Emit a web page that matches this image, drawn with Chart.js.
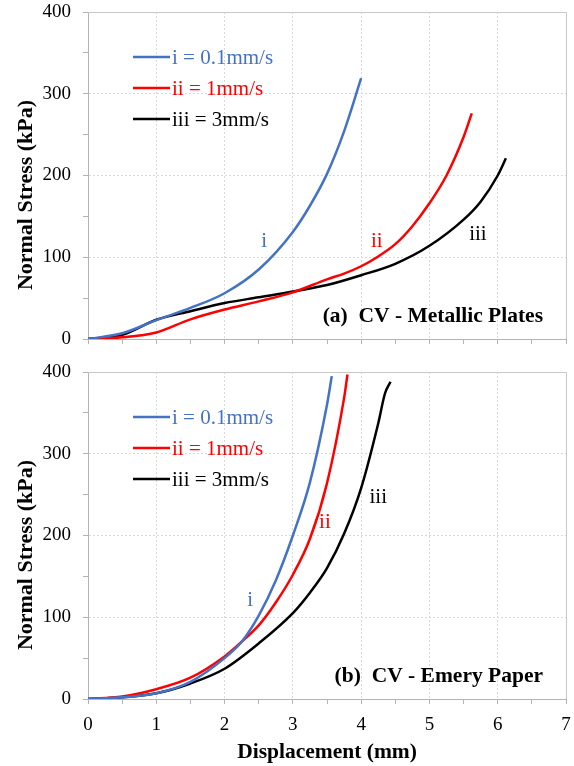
<!DOCTYPE html>
<html>
<head>
<meta charset="utf-8">
<script src="https://cdn.jsdelivr.net/npm/chart.js@4.4.0/dist/chart.umd.min.js"></script>
<style>
  html, body { margin: 0; padding: 0; background: #fff; }
  #wrap { position: relative; width: 574px; height: 766px; }
  canvas { position: absolute; left: 0; }
  #top { top: 0; }
  #bottom { top: 360px; }
</style>
</head>
<body>
<div id="wrap">
  <canvas id="top" width="574" height="360"></canvas>
  <canvas id="bottom" width="574" height="406"></canvas>
</div>
<script>
// displacement (mm) vs normal stress (kPa)
const legendLabels = ["i = 0.1mm/s", "ii = 1mm/s", "iii = 3mm/s"];
const curveTags = ["i", "ii", "iii"];
const seriesColors = ["#4472C4", "#FF0000", "#000000"];

// (a) CV - Metallic Plates
const metalX1 = [0, 0.5, 1, 1.5, 2, 2.5, 3, 3.25, 3.5, 3.75, 4.0];
const metalY1 = [0, 7, 23, 38, 56, 85, 131, 163, 202, 254, 319];
const metalX2 = [0, 0.5, 1, 1.5, 2, 2.5, 3, 3.5, 3.75, 4, 4.25, 4.5, 4.75, 5, 5.25, 5.5, 5.62];
const metalY2 = [0, 2, 8, 24, 36, 46, 57, 73, 80, 89, 101, 116, 138, 166, 200, 247, 276];
const metalX3 = [0, 0.5, 1, 1.5, 2, 2.5, 3, 3.5, 4, 4.5, 5, 5.5, 5.75, 6, 6.12];
const metalY3 = [0, 5, 23.5, 34, 44, 51, 58, 66, 78, 92, 114, 146, 168, 200, 221];
const metalTagX = [2.58, 4.23, 5.71];
const metalTagY = [119, 119, 128];

// (b) CV - Emery Paper
const emeryX1 = [0, 0.5, 1, 1.5, 2, 2.25, 2.5, 2.75, 3, 3.25, 3.5, 3.57];
const emeryY1 = [0, 2, 7, 21, 50, 70, 102, 145, 200, 265, 360, 395];
const emeryX2 = [0, 0.5, 1, 1.5, 2, 2.25, 2.5, 2.75, 3, 3.25, 3.5, 3.75, 3.8];
const emeryY2 = [0, 3, 12, 26, 52, 70, 90, 118, 152, 196, 264, 368, 397];
const emeryX3 = [0, 0.5, 1, 1.5, 2, 2.5, 3, 3.25, 3.5, 3.75, 4, 4.25, 4.35, 4.43];
const emeryY3 = [0, 2, 7, 19, 37, 68, 105, 130, 160, 202, 258, 337, 374, 388];
const emeryTagX = [2.375, 3.47, 4.25];
const emeryTagY = [121, 216, 246];

const serif = '"Liberation Serif", "Times New Roman", serif';
const axisGray = "#B4B4B4";
const gridGray = "#D9D9D9";

function toPoints(xs, ys) {
  return xs.map((x, i) => ({ x: x, y: ys[i] }));
}

// frame, legend, curve tags, caption and rotated y title
const decorations = {
  id: "decorations",
  beforeDatasetsDraw(chart) {
    const { ctx, chartArea: a } = chart;
    ctx.save();
    ctx.strokeStyle = "#C8C8C8";
    ctx.lineWidth = 1;
    ctx.beginPath();
    ctx.moveTo(a.left, a.top + 0.5);
    ctx.lineTo(a.right + 0.5, a.top + 0.5);
    ctx.lineTo(a.right + 0.5, a.bottom);
    ctx.stroke();
    ctx.restore();
  },
  afterDraw(chart, args, opts) {
    const { ctx, chartArea: a, scales } = chart;
    ctx.save();

    // legend
    ctx.textBaseline = "middle";
    ctx.textAlign = "left";
    ctx.font = "21px " + serif;
    chart.data.datasets.forEach((ds, i) => {
      const y = 57 + i * 31;
      ctx.strokeStyle = ds.borderColor;
      ctx.lineWidth = 2.5;
      ctx.beginPath();
      ctx.moveTo(133, y);
      ctx.lineTo(170, y);
      ctx.stroke();
      ctx.fillStyle = ds.borderColor;
      ctx.fillText(ds.label, 172, y + 1);
    });

    // curve tags
    ctx.textAlign = "center";
    opts.tagX.forEach((tx, i) => {
      ctx.fillStyle = seriesColors[i];
      ctx.fillText(curveTags[i], scales.x.getPixelForValue(tx), scales.y.getPixelForValue(opts.tagY[i]));
    });

    // caption
    ctx.fillStyle = "#000";
    ctx.textAlign = "right";
    ctx.font = "bold 21.5px " + serif;
    ctx.fillText(opts.caption, a.right - 23, a.bottom - 23);

    // y axis title
    ctx.translate(26, 195);
    ctx.rotate(-Math.PI / 2);
    ctx.textAlign = "center";
    ctx.font = "bold 22px " + serif;
    ctx.fillText("Normal Stress (kPa)", 0, 0);
    ctx.restore();
  }
};

function makePanel(id, xs, ys, tagX, tagY, caption, isBottom) {
  const datasets = xs.map((x, i) => ({
    label: legendLabels[i],
    data: toPoints(x, ys[i]),
    borderColor: seriesColors[i],
    backgroundColor: seriesColors[i],
    borderWidth: 2.5,
    pointRadius: 0,
    cubicInterpolationMode: "monotone",
    fill: false
  }));

  return new Chart(document.getElementById(id), {
    type: "line",
    data: { datasets: datasets },
    plugins: [decorations],
    options: {
      responsive: false,
      animation: false,
      layout: { padding: { top: 12, right: 8, left: 0, bottom: 0 } },
      plugins: {
        legend: { display: false },
        tooltip: { enabled: false },
        decorations: { tagX: tagX, tagY: tagY, caption: caption }
      },
      scales: {
        x: {
          type: "linear",
          min: 0,
          max: 7,
          afterFit: s => {
            s.height = isBottom ? 67 : 21;
            s.paddingLeft = 0;
            s.paddingRight = 0;
          },
          ticks: {
            stepSize: 0.5,
            padding: 10,
            color: "#000",
            font: { family: serif, size: 19 },
            maxRotation: 0,
            autoSkip: false,
            callback: v => (isBottom && Number.isInteger(v)) ? v : ""
          },
          grid: {
            color: c => (Number.isInteger(c.tick.value) && c.tick.value > 0 && c.tick.value < 7) ? gridGray : "rgba(0,0,0,0)",
            tickColor: axisGray,
            tickLength: 5,
            lineWidth: 1
          },
          border: { color: axisGray, width: 1, dash: [2, 2] },
          title: {
            display: isBottom,
            text: "Displacement (mm)",
            color: "#000",
            font: { family: serif, size: 21.5, weight: "bold" },
            padding: { top: 0, bottom: 1 }
          }
        },
        y: {
          min: 0,
          max: 400,
          afterFit: s => {
            s.width = 88;
            s.paddingTop = 0;
            s.paddingBottom = 0;
          },
          ticks: {
            stepSize: 50,
            padding: 12,
            color: "#000",
            font: { family: serif, size: 19 },
            autoSkip: false,
            callback: v => (v % 100 === 0) ? v : ""
          },
          grid: {
            color: c => (c.tick.value % 100 === 0 && c.tick.value > 0 && c.tick.value < 400) ? gridGray : "rgba(0,0,0,0)",
            tickColor: axisGray,
            tickLength: 5,
            lineWidth: 1
          },
          border: { color: axisGray, width: 1, dash: [2, 2] }
        }
      }
    }
  });
}

makePanel("top", [metalX1, metalX2, metalX3], [metalY1, metalY2, metalY3],
  metalTagX, metalTagY, "(a)  CV - Metallic Plates", false);
makePanel("bottom", [emeryX1, emeryX2, emeryX3], [emeryY1, emeryY2, emeryY3],
  emeryTagX, emeryTagY, "(b)  CV - Emery Paper", true);
</script>
</body>
</html>
